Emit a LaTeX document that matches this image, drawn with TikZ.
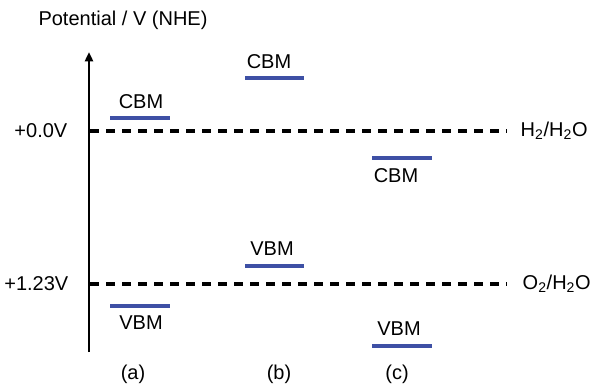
\documentclass[tikz,border=0pt]{standalone}
\usepackage{fontspec}
\setmainfont{Liberation Sans}
\usetikzlibrary{arrows.meta, positioning}
\definecolor{bandblue}{RGB}{62,80,165}

\begin{document}
\begin{tikzpicture}[x=0.75pt, y=-0.75pt, font=\fontsize{15}{18}\selectfont,
    band/.style={bandblue, line width=2.6pt},
    redox/.style={line width=2.3pt, dash pattern=on 7pt off 5pt}]
    \useasboundingbox (0,0) rectangle (594,383);
    % potential axis
    \node (title) at (123,20) {Potential / V (NHE)};
    \coordinate (axbot) at (89,352);
    \coordinate (axtop) at (89,52);
    \draw[line width=1.8pt, -{Triangle[length=7pt, width=6pt]}] (axbot) -- (axtop);
    % redox levels
    \node[anchor=east] (zero) at (72,131) {+0.0V};
    \node[anchor=east] (oxy) at (73,284) {+1.23V};
    \node[anchor=west] (hh) at (516,131) {H\textsubscript{2}/H\textsubscript{2}O};
    \node[anchor=west] (oh) at (518,284) {O\textsubscript{2}/H\textsubscript{2}O};
    \coordinate (zl) at (90,131);
    \coordinate (zr) at (507,131);
    \coordinate (ol) at (90,284);
    \coordinate (or) at (507,284);
    \draw[redox] (zl) -- (zr);
    \draw[redox] (ol) -- (or);
    % band edges (a), (b), (c)
    \draw[band] (110,118) -- (170,118);
    \draw[band] (110,306) -- (170,306);
    \draw[band] (245,78) -- (304,78);
    \draw[band] (245,266) -- (304,266);
    \draw[band] (372,158) -- (432,158);
    \draw[band] (372,346) -- (432,346);
    \node (cbma) at (141,102) {CBM};
    \node (vbma) at (141,323) {VBM};
    \node (cbmb) at (269,62) {CBM};
    \node (vbmb) at (272,249) {VBM};
    \node (cbmc) at (396,176) {CBM};
    \node (vbmc) at (399,329) {VBM};
    \node (a) at (133,374) {(a)};
    \node (b) at (279,374) {(b)};
    \node (c) at (397,374) {(c)};
\end{tikzpicture}
\end{document}
